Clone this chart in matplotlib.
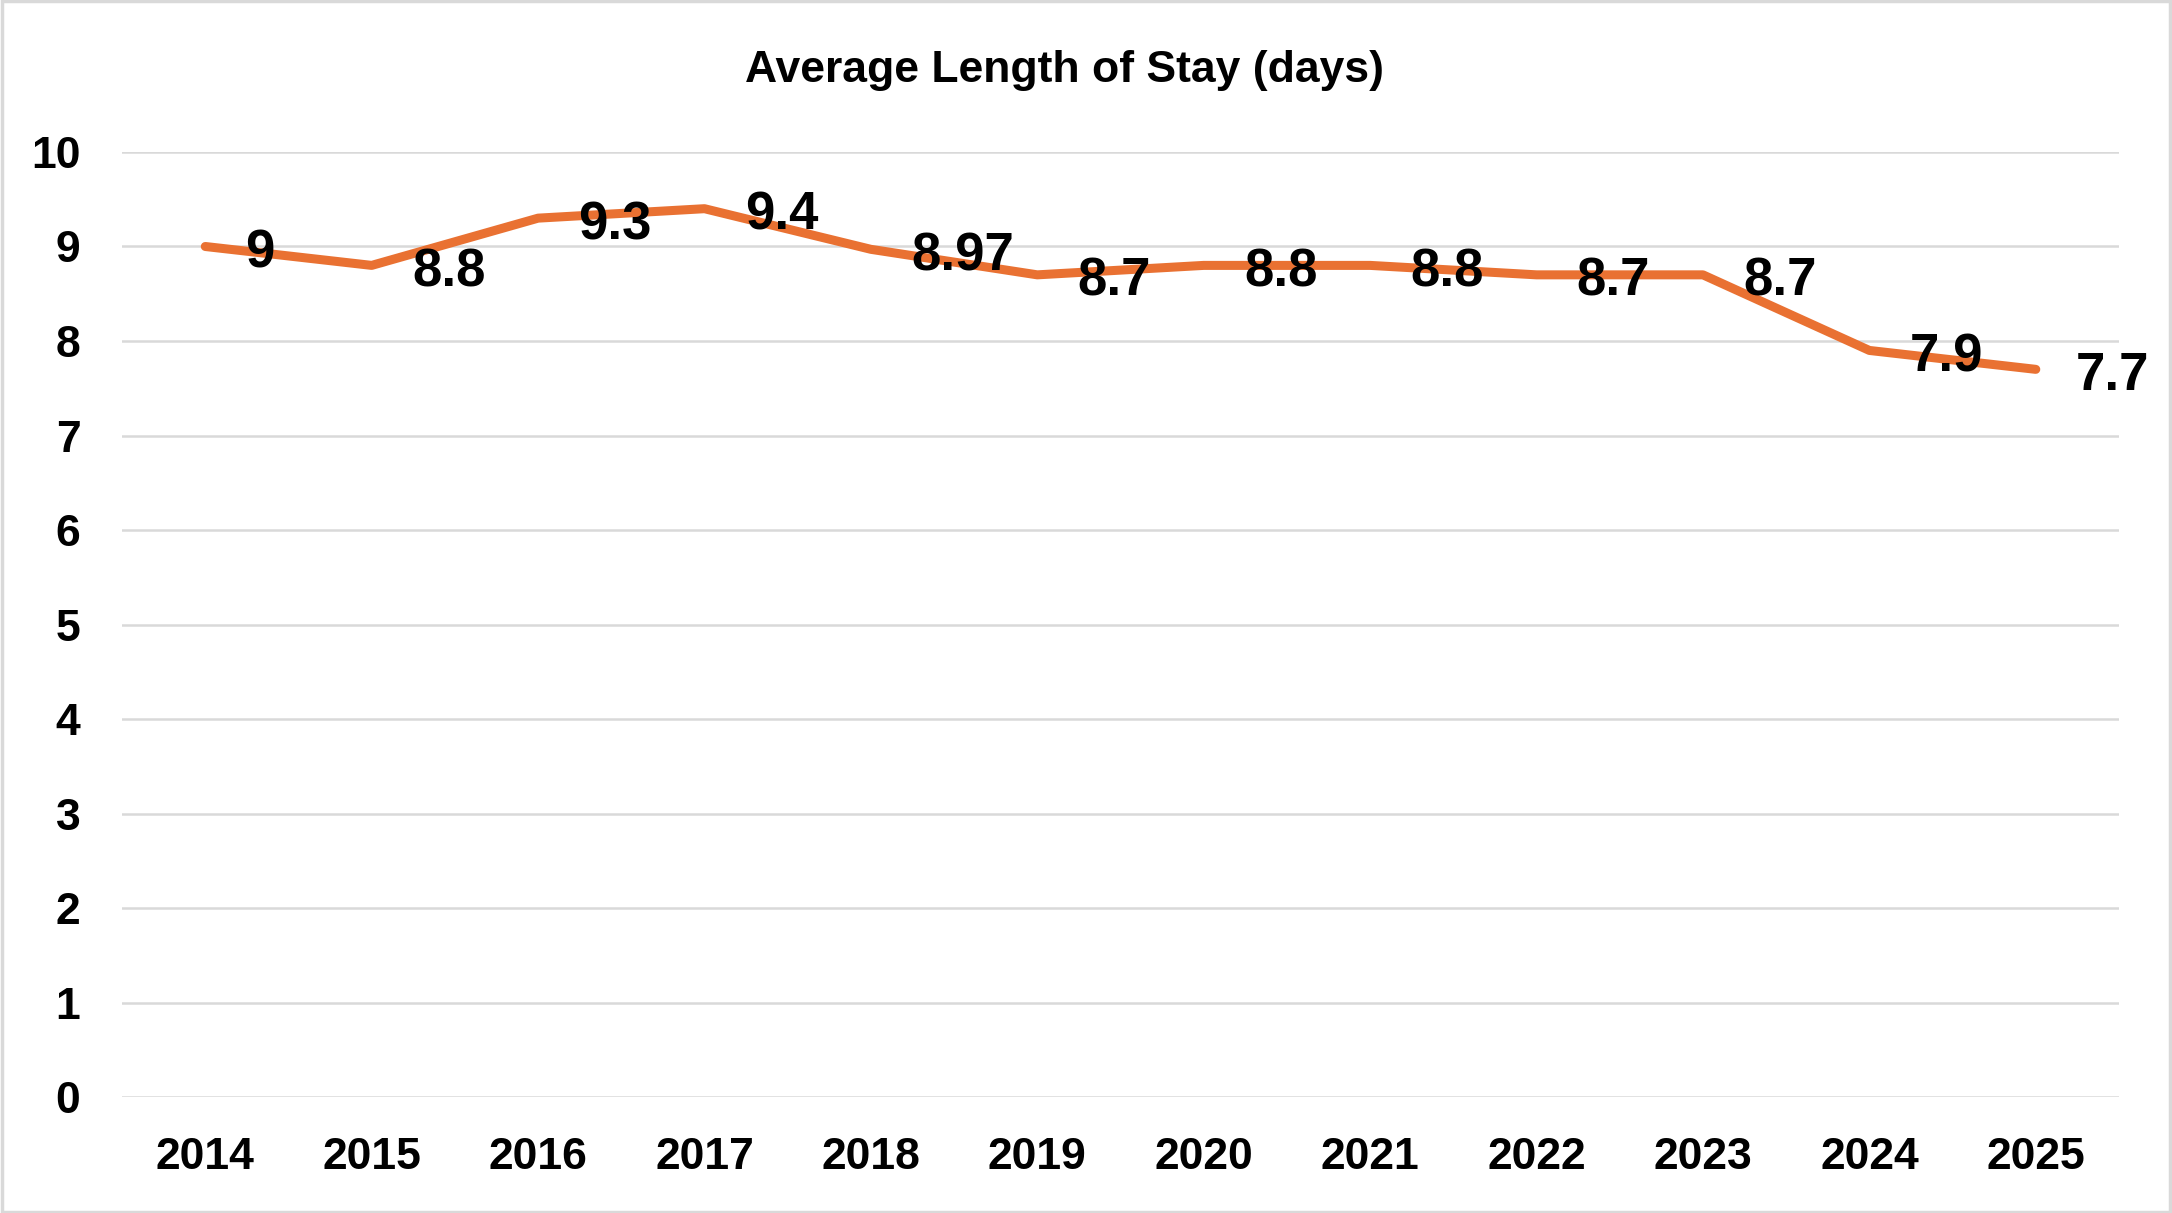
import matplotlib
matplotlib.use("Agg")
import matplotlib.pyplot as plt
from matplotlib.patches import Rectangle

plt.rcParams['font.family'] = ['Liberation Sans', 'DejaVu Sans']

# Data
years = ["2014", "2015", "2016", "2017", "2018", "2019",
         "2020", "2021", "2022", "2023", "2024", "2025"]
avg_stay = [9, 8.8, 9.3, 9.4, 8.97, 8.7, 8.8, 8.8, 8.7, 8.7, 7.9, 7.7]
yticks = [0, 1, 2, 3, 4, 5, 6, 7, 8, 9, 10]

LINE_COLOR = '#E97132'
GRID_COLOR = '#D9D9D9'

fig = plt.figure(figsize=(21.72, 12.13), dpi=100)
ax = fig.add_axes([0.0562, 0.0956, 0.9194, 0.7791])

x = list(range(len(years)))
ax.plot(x, avg_stay, color=LINE_COLOR, linewidth=6.5, solid_joinstyle='round',
        solid_capstyle='round', zorder=3)

# data labels to the right of each point
for xi, v in zip(x, avg_stay):
    ax.annotate(f"{v:g}", (xi, v), xytext=(29, -5), textcoords='offset points',
                ha='left', va='center', fontsize=38, fontweight='bold',
                color='black', zorder=4, annotation_clip=False)

ax.set_xlim(-0.5, len(years) - 0.5)
ax.set_ylim(0, 10)
ax.set_xticks(x)
ax.set_xticklabels(years)
ax.set_yticks(yticks)
ax.tick_params(length=0, labelsize=32, pad=30)
ax.tick_params(axis='x', pad=29)
for lbl in ax.get_xticklabels() + ax.get_yticklabels():
    lbl.set_fontweight('bold')

ax.grid(axis='y', color=GRID_COLOR, linewidth=1.8)
ax.set_axisbelow(True)
for s in ax.spines.values():
    s.set_visible(False)

fig.text(0.49, 0.9415, "Average Length of Stay (days)", ha='center', va='center',
         fontsize=32, fontweight='bold')

# chart border
fig.patches.append(Rectangle((0.001, 0.001), 0.998, 0.998, transform=fig.transFigure,
                             fill=False, edgecolor=GRID_COLOR, linewidth=2.5))

fig.savefig("out.png", dpi=100)
